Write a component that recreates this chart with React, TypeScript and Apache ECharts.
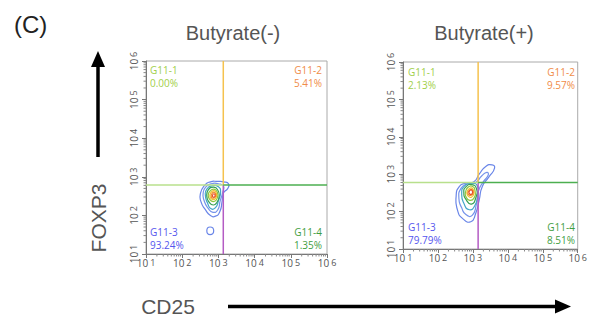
import React, { useEffect, useRef } from "react";
import * as echarts from "echarts";

// ---- data (log10 units) ----
const TITLES = ["Butyrate(-)", "Butyrate(+)"];
const MAJOR_EXP = [1, 2, 3, 4, 5, 6];
const MINOR_MULT = [2, 3, 4, 5, 6, 7, 8, 9];

// quadrant gates [logX, logY]
const GATE_1 = [3.135, 2.79];
const GATE_2 = [3.15, 2.78];

const Q_NAMES = ["G11-1", "G11-2", "G11-3", "G11-4"];
const Q_PCT_1 = ["0.00%", "5.41%", "93.24%", "1.35%"];
const Q_PCT_2 = ["2.13%", "9.57%", "79.79%", "8.51%"];

// contours, outer -> inner
const P1_CONTOURS: number[][][] = [
  [[2.62,2.78],[2.78,2.87],[2.98,2.88],[3.15,2.87],[3.28,2.82],[3.26,2.7],[3.14,2.58],[3.1,2.35],[3.04,2.1],[2.92,1.98],[2.78,2.0],[2.64,2.15],[2.52,2.35],[2.5,2.55]],
  [[2.64,2.72],[2.8,2.82],[3.0,2.82],[3.14,2.76],[3.12,2.6],[3.05,2.38],[2.98,2.14],[2.85,2.08],[2.72,2.18],[2.6,2.4],[2.58,2.58]],
  [[2.68,2.68],[2.84,2.77],[3.0,2.74],[3.06,2.6],[3.0,2.38],[2.92,2.2],[2.8,2.17],[2.7,2.32],[2.64,2.52]],
  [[2.72,2.66],[2.86,2.73],[2.98,2.66],[3.02,2.5],[2.96,2.34],[2.86,2.27],[2.74,2.35],[2.68,2.5]],
  [[2.76,2.62],[2.88,2.68],[2.97,2.6],[2.97,2.45],[2.88,2.36],[2.77,2.4],[2.72,2.52]],
  [[2.79,2.59],[2.88,2.64],[2.95,2.56],[2.93,2.45],[2.85,2.41],[2.77,2.47]],
  [[2.82,2.56],[2.88,2.6],[2.93,2.53],[2.9,2.46],[2.83,2.45],[2.8,2.5]],
  [[2.84,2.53],[2.88,2.56],[2.91,2.51],[2.87,2.47],[2.84,2.49]],
];
const P1_OUTLIER: number[][] = [[2.68,1.6],[2.77,1.7],[2.87,1.6],[2.77,1.5]];

const P2_CONTOURS: number[][][] = [
  [[3.55,3.25],[3.62,3.16],[3.46,2.93],[3.27,2.67],[3.18,2.31],[3.08,1.95],[2.94,1.73],[2.7,1.82],[2.56,2.04],[2.52,2.4],[2.61,2.67],[2.8,2.76],[3.03,2.8],[3.18,3.0],[3.36,3.2]],
  [[3.4,3.05],[3.44,2.98],[3.3,2.8],[3.16,2.55],[3.1,2.2],[2.98,1.9],[2.8,1.92],[2.68,2.1],[2.6,2.35],[2.66,2.62],[2.84,2.74],[3.08,2.78],[3.25,2.95]],
  [[2.68,2.5],[2.76,2.68],[2.95,2.75],[3.12,2.7],[3.14,2.45],[3.05,2.15],[2.9,2.05],[2.75,2.2]],
  [[2.74,2.52],[2.81,2.67],[2.97,2.72],[3.1,2.62],[3.08,2.36],[2.96,2.2],[2.82,2.3]],
  [[2.79,2.52],[2.86,2.65],[2.98,2.68],[3.06,2.56],[3.03,2.36],[2.91,2.3],[2.8,2.4]],
  [[2.83,2.52],[2.9,2.62],[3.0,2.61],[3.03,2.48],[2.95,2.38],[2.86,2.42]],
  [[2.86,2.52],[2.93,2.59],[3.0,2.56],[3.0,2.47],[2.93,2.43],[2.87,2.46]],
  [[2.89,2.53],[2.95,2.58],[2.99,2.53],[2.97,2.47],[2.91,2.47]],
];

// ---- styles ----
const LEVEL_COLORS = ["#6a86e8", "#7694ea", "#44a6c8", "#36a056", "#8cc63f", "#f2c22e", "#f08a2c", "#e8502a"];
const Q_COLORS = ["#9fcf4a", "#f08c48", "#5556ee", "#3f9e3f"];
const GRIDS = [
  { left: 146, top: 61, width: 181, height: 193 },
  { left: 403, top: 62, width: 177, height: 187 },
];
const FONT = "Liberation Sans";

function minorPositions(): number[] {
  const out: number[] = [];
  for (let e = 1; e < 6; e++) for (const m of MINOR_MULT) out.push(e + Math.log10(m));
  return out;
}

export default function App() {
  const ref = useRef<HTMLDivElement>(null);
  useEffect(() => {
    if (!ref.current) return;
    const chart = echarts.init(ref.current, undefined, { renderer: "svg" });
    const minors = minorPositions();
    const rich = {
      a: { fontSize: 10, color: "#555", fontFamily: "Open Sans", lineHeight: 12 },
      b: { fontSize: 9, color: "#555", fontFamily: "Open Sans", padding: [0, 0, 2, 2] },
    };
    const fmt = (v: number) => (MAJOR_EXP.includes(v) ? `{a|10}{b|${v}}` : "");
    const axisCommon = {
      type: "value",
      min: 1,
      max: 6,
      interval: 1,
      axisLine: { show: true, onZero: false, lineStyle: { color: "#777", width: 1 } },
      axisTick: { show: true, length: 4, lineStyle: { color: "#777" } },
      splitLine: { show: false },
    };
    const xAxes = GRIDS.map((_, i) => ({
      ...axisCommon,
      gridIndex: i,
      axisLabel: { formatter: fmt, rich, margin: 3 },
    }));
    const yAxes = GRIDS.map((_, i) => ({
      ...axisCommon,
      gridIndex: i,
      axisLabel: { formatter: fmt, rich, margin: 6, rotate: 90 },
    }));

    const series: any[] = [];
    const contourSets = [P1_CONTOURS, P2_CONTOURS];
    contourSets.forEach((set, gi) => {
      const items = set.map((c, i) => ({ value: [c[0][0], c[0][1], i] }));
      if (gi === 0) items.push({ value: [P1_OUTLIER[0][0], P1_OUTLIER[0][1], -1] });
      series.push({
        type: "custom",
        xAxisIndex: gi,
        yAxisIndex: gi,
        silent: true,
        data: items,
        renderItem: (params: any, api: any) => {
          const idx = api.value(2);
          const pts = idx < 0 ? P1_OUTLIER : set[idx];
          const color = idx < 0 ? LEVEL_COLORS[0] : LEVEL_COLORS[idx];
          return {
            type: "polygon",
            shape: { points: pts.map((p) => api.coord(p)), smooth: 0.6 },
            style: { fill: "none", stroke: color, lineWidth: 1.2 },
          };
        },
      });
    });

    // quadrant gate lines
    [GATE_1, GATE_2].forEach((g, gi) => {
      const segs: [number[][], string][] = [
        [[[g[0], 1], [g[0], g[1]]], "#b45cc4"],
        [[[g[0], g[1]], [g[0], 6]], "#f5c24e"],
        [[[1, g[1]], [g[0], g[1]]], "#b8e08c"],
        [[[g[0], g[1]], [6, g[1]]], "#4caf50"],
      ];
      segs.forEach(([d, c]) =>
        series.push({
          type: "line",
          xAxisIndex: gi,
          yAxisIndex: gi,
          data: d,
          symbol: "none",
          silent: true,
          lineStyle: { color: c, width: 1.5 },
        })
      );
    });

    // log minor ticks
    GRIDS.forEach((_, gi) => {
      series.push({
        type: "custom",
        xAxisIndex: gi,
        yAxisIndex: gi,
        silent: true,
        clip: false,
        data: minors.map((m) => [m, 1]),
        renderItem: (params: any, api: any) => {
          const p = api.coord([api.value(0), 1]);
          return { type: "line", shape: { x1: p[0], y1: p[1], x2: p[0], y2: p[1] + 2.5 }, style: { stroke: "#888", lineWidth: 1 } };
        },
      });
      series.push({
        type: "custom",
        xAxisIndex: gi,
        yAxisIndex: gi,
        silent: true,
        clip: false,
        data: minors.map((m) => [1, m]),
        renderItem: (params: any, api: any) => {
          const p = api.coord([1, api.value(1)]);
          return { type: "line", shape: { x1: p[0], y1: p[1], x2: p[0] - 2.5, y2: p[1] }, style: { stroke: "#888", lineWidth: 1 } };
        },
      });
    });

    const qText = (x: number, y: number, name: string, pct: string, color: string, align: string) => ({
      type: "text",
      x,
      y,
      style: { text: `${name}\n${pct}`, fill: color, font: `10px "Open Sans"`, lineHeight: 13, align, verticalAlign: "top" },
    });

    const graphic: any[] = [
      { type: "text", x: 14, y: 24, style: { text: "(C)", fill: "#222", font: `24px "${FONT}"`, verticalAlign: "middle" } },
      { type: "text", x: 233, y: 33, style: { text: TITLES[0], fill: "#555", font: `20px "${FONT}"`, align: "center", verticalAlign: "middle" } },
      { type: "text", x: 484, y: 33, style: { text: TITLES[1], fill: "#555", font: `20px "${FONT}"`, align: "center", verticalAlign: "middle" } },
      { type: "text", x: 98, y: 218, rotation: Math.PI / 2, style: { text: "FOXP3", fill: "#555", font: `21px "${FONT}"`, align: "center", verticalAlign: "middle" } },
      { type: "text", x: 168, y: 306, style: { text: "CD25", fill: "#555", font: `21px "${FONT}"`, align: "center", verticalAlign: "middle" } },
      { type: "line", shape: { x1: 98, y1: 64, x2: 98, y2: 157 }, style: { stroke: "#000", lineWidth: 3.5 } },
      { type: "polygon", shape: { points: [[98, 51], [91, 67], [105, 67]] }, style: { fill: "#000" } },
      { type: "line", shape: { x1: 228, y1: 306.5, x2: 558, y2: 306.5 }, style: { stroke: "#000", lineWidth: 3.5 } },
      { type: "polygon", shape: { points: [[571, 306.5], [555, 299.5], [555, 313.5]] }, style: { fill: "#000" } },
      qText(150, 63, Q_NAMES[0], Q_PCT_1[0], Q_COLORS[0], "left"),
      qText(322, 63, Q_NAMES[1], Q_PCT_1[1], Q_COLORS[1], "right"),
      qText(150, 225, Q_NAMES[2], Q_PCT_1[2], Q_COLORS[2], "left"),
      qText(322, 225, Q_NAMES[3], Q_PCT_1[3], Q_COLORS[3], "right"),
      qText(408, 65, Q_NAMES[0], Q_PCT_2[0], Q_COLORS[0], "left"),
      qText(575, 65, Q_NAMES[1], Q_PCT_2[1], Q_COLORS[1], "right"),
      qText(408, 220, Q_NAMES[2], Q_PCT_2[2], Q_COLORS[2], "left"),
      qText(575, 220, Q_NAMES[3], Q_PCT_2[3], Q_COLORS[3], "right"),
    ];

    chart.setOption({
      animation: false,
      backgroundColor: "#fff",
      grid: GRIDS.map((g) => ({ ...g, show: true, borderColor: "#aaa", borderWidth: 1, backgroundColor: "transparent" })),
      xAxis: xAxes,
      yAxis: yAxes,
      series,
      graphic,
    });
    return () => chart.dispose();
  }, []);
  return <div ref={ref} style={{ position: "absolute", left: 0, top: 0, width: 590, height: 321 }} />;
}
